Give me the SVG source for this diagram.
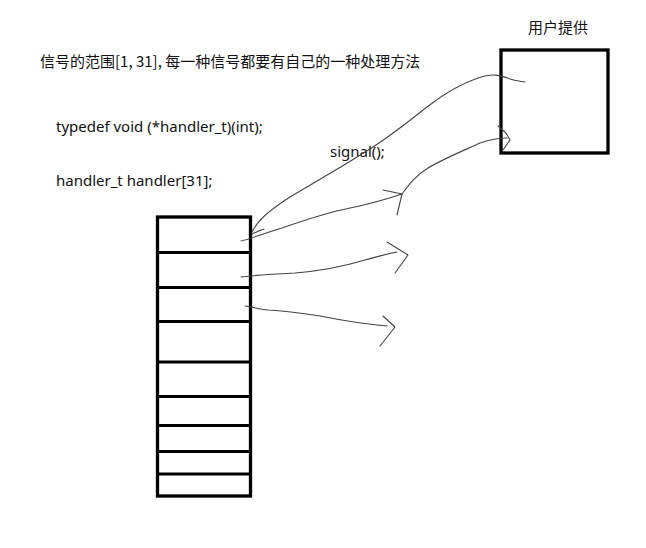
<svg xmlns="http://www.w3.org/2000/svg" width="646" height="548" viewBox="0 0 646 548">
<style>
.box{fill:none;stroke:#000;stroke-width:3.3}
.div{stroke:#000;stroke-width:3}
.t{font-family:"Noto Sans","Noto Sans CJK SC",sans-serif;font-size:15px;fill:#111}
.cjk{font-family:"Noto Sans CJK SC",sans-serif;font-size:15px;fill:#111}
.ink{fill:none;stroke:#444;stroke-width:1.1;stroke-linecap:round;stroke-linejoin:round}
</style>
<rect width="646" height="548" fill="#fff"/>
<g id="title"><text class="cjk" x="40" y="67">信号的范围[1, 31], 每一种信号都要有自己的一种处理方法</text></g>
<g id="typedef"><text class="t" x="56" y="132">typedef void (*handler_t)(int);</text></g>
<g id="decl"><text class="t" x="56" y="186">handler_t handler[31];</text></g>
<g id="signal"><text class="t" x="330" y="157">signal();</text></g>
<g id="user-label"><text class="cjk" x="558" y="33" text-anchor="middle">用户提供</text></g>
<g id="user-box"><rect class="box" x="501" y="50" width="107" height="103"/></g>
<g id="handler-array">
<rect class="box" x="157.5" y="217" width="93" height="279"/>
<line class="div" x1="157" y1="252.5" x2="251" y2="252.5"/>
<line class="div" x1="157" y1="287.5" x2="251" y2="287.5"/>
<line class="div" x1="157" y1="321.5" x2="251" y2="321.5"/>
<line class="div" x1="157" y1="362" x2="251" y2="362"/>
<line class="div" x1="157" y1="396.5" x2="251" y2="396.5"/>
<line class="div" x1="157" y1="425.5" x2="251" y2="425.5"/>
<line class="div" x1="157" y1="451.5" x2="251" y2="451.5"/>
<line class="div" x1="157" y1="474" x2="251" y2="474"/>
</g>
<g id="connectors">
<path class="ink" d="M252,232 C256,224 262,215 290,197 C315,182 340,168 365,152 C390,137 410,120 427,107 C445,93 460,84 478,78 C492,73 500,75 510,79 C516,81 520,81 525,82"/>
<path class="ink" d="M252,234 C256,232 258,231 264,229"/>
<path class="ink" d="M241,241 C250,239 262,234 282,228 C305,220 325,213 350,208 C375,203 390,198 402,194"/>
<path class="ink" d="M383,190 L402,194 L397,215"/>
<path class="ink" d="M402,194 C408,186 415,176 428,168 C445,158 465,150 480,143 C492,139 500,138 507,138"/>
<path class="ink" d="M498,126 L506,133 L510,140 L503,150"/>
<path class="ink" d="M241,277 C255,275 275,274 295,273 C320,271 345,266 365,260 C380,256 390,253 397,252"/>
<path class="ink" d="M387,242 L408,255 L395,273"/>
<path class="ink" d="M245,306 C252,307 258,309 268,310 C285,311 300,313 320,316 C345,321 365,324 387,326"/>
<path class="ink" d="M383,316 L395,327 L380,346"/>
</g>
</svg>
